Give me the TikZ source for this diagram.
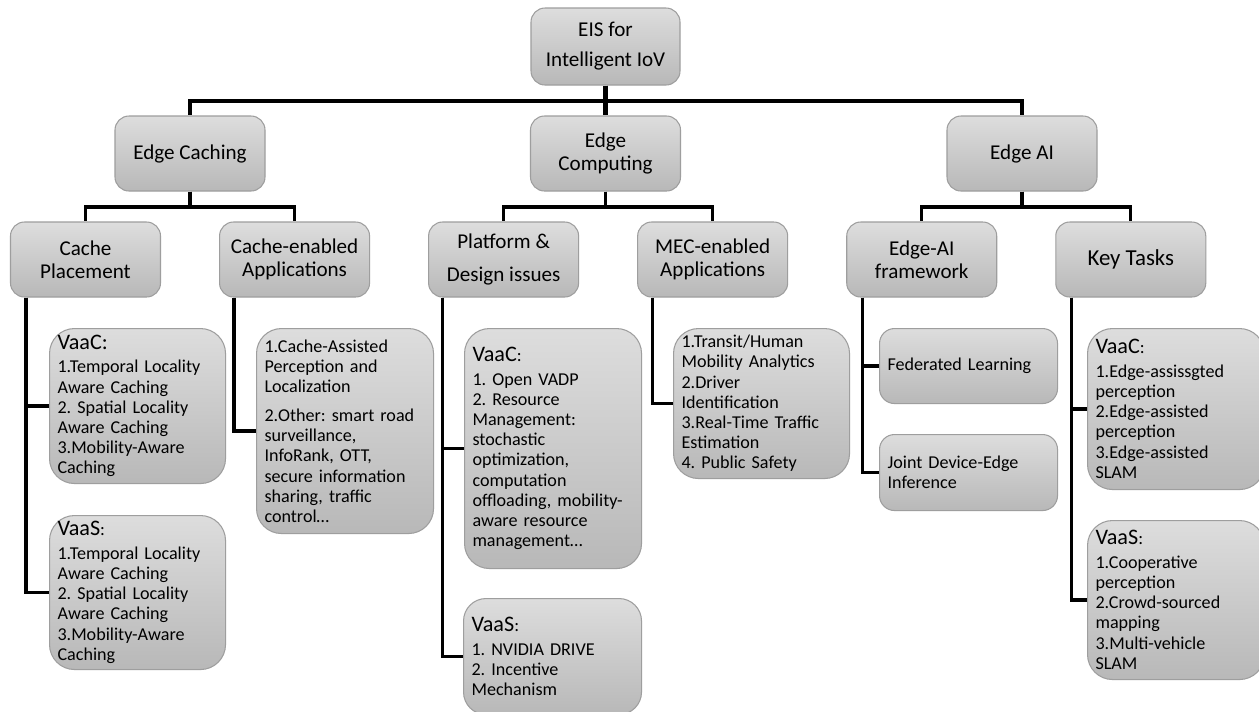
\documentclass[tikz,border=0pt]{standalone}
\usepackage{fontspec}
\setmainfont{Carlito}
\usetikzlibrary{positioning,calc}
\definecolor{boxtop}{RGB}{221,221,221}
\definecolor{boxbot}{RGB}{184,184,184}
\definecolor{boxline}{RGB}{158,158,158}
\newcommand{\vhead}[1]{{\fontsize{12.6}{13.3}\selectfont #1}}
\frenchspacing

\begin{document}
\begin{tikzpicture}[
  topic/.style={draw=boxline, line width=0.6pt, rounded corners=0.28cm, top color=boxtop, bottom color=boxbot,
    align=center, font=\fontsize{12}{13.3}\selectfont, minimum width=3cm, minimum height=1.5cm, inner sep=2pt},
  leaf/.style={draw=boxline, line width=0.6pt, rounded corners=0.5cm, top color=boxtop, bottom color=boxbot,
    anchor=north west, align=left, font=\fontsize{10.3}{11.5}\selectfont\frenchspacing, inner xsep=0.16cm, inner ysep=2pt},
  bus/.style={line width=2.3pt},
  link/.style={line width=1.8pt}
]
\useasboundingbox[fill=white] (0,0) rectangle (25.18,-14.22);

% top levels
\node[topic, minimum width=2.98cm, minimum height=1.54cm] (root) at (12.11,-0.93) {EIS for\\[3.7pt]Intelligent IoV};
\node[topic] (ec) at (3.80,-3.07) {Edge Caching};
\node[topic] (ecomp) at (12.11,-3.07) {Edge\\Computing};
\node[topic] (eai) at (20.44,-3.07) {Edge AI};

\node[topic] (cp) at (1.71,-5.19) {Cache\\Placement};
\node[topic, right=1.16cm of cp] (cea) {Cache-enabled\\Applications};
\node[topic, right=1.16cm of cea] (pd) {Platform \&\\[5.5pt]Design issues};
\node[topic, right=1.16cm of pd] (mec) {MEC-enabled\\Applications};
\node[topic, right=1.16cm of mec] (eaf) {Edge-AI\\framework};
\node[topic, right=1.16cm of eaf, font=\fontsize{13}{14}\selectfont] (kt) {Key Tasks};

% leaves
\node[leaf, text width=3.20cm, minimum height=3.10cm] (cpvaac) at (0.98,-6.56)
  {\vhead{VaaC:}\\[1.8pt]1.Temporal Locality\\Aware Caching\\2. Spatial Locality\\Aware Caching\\3.Mobility-Aware\\Caching};
\node[leaf, text width=3.20cm, minimum height=3.08cm] (cpvaas) at (0.98,-10.30)
  {\vhead{VaaS}:\\[1.8pt]1.Temporal Locality\\Aware Caching\\2. Spatial Locality\\Aware Caching\\3.Mobility-Aware\\Caching};
\node[leaf, text width=3.22cm, minimum height=4.10cm] (ceabox) at (5.12,-6.56)
  {1.Cache-Assisted\\Perception and\\Localization\\[5pt]2.Other: smart road\\surveillance,\\InfoRank, OTT,\\secure information\\sharing, traffic\\control\ldots};
\node[leaf, text width=3.22cm, minimum height=4.80cm] (pdvaac) at (9.28,-6.56)
  {\vhead{VaaC}:\\[1.8pt]1. Open VADP\\2. Resource\\Management:\\stochastic\\optimization,\\computation\\offloading, mobility-\\aware resource\\management\ldots};
\node[leaf, text width=3.24cm, minimum height=2.32cm, rounded corners=0.45cm] (pdvaas) at (9.26,-11.96)
  {\vhead{VaaS}:\\[1.8pt]1. NVIDIA DRIVE\\2. Incentive\\Mechanism};
\node[leaf, text width=3.20cm, minimum height=3.00cm] (mecbox) at (13.46,-6.56)
  {1.Transit/Human\\Mobility Analytics\\2.Driver\\Identification\\3.Real-Time Traffic\\Estimation\\4. Public Safety};
\node[leaf, text width=3.24cm, minimum height=1.50cm, rounded corners=0.3cm] (fed) at (17.58,-6.56)
  {Federated Learning};
\node[leaf, text width=3.24cm, minimum height=1.52cm, rounded corners=0.3cm] (joint) at (17.58,-8.68)
  {Joint Device-Edge\\Inference};
\node[leaf, text width=3.22cm, minimum height=3.22cm] (ktvaac) at (21.74,-6.56)
  {\vhead{VaaC}:\\[1.8pt]1.Edge-assissgted\\perception\\2.Edge-assisted\\perception\\3.Edge-assisted\\SLAM};
\node[leaf, text width=3.22cm, minimum height=3.18cm] (ktvaas) at (21.74,-10.40)
  {\vhead{VaaS}:\\[1.8pt]1.Cooperative\\perception\\2.Crowd-sourced\\mapping\\3.Multi-vehicle\\SLAM};

% tree connectors
\draw[bus] (root.south) -- ++(0,-0.3) -| (ec.north);
\draw[bus] (root.south) -- ++(0,-0.3) -| (eai.north);
\draw[bus] (root.south) -- (ecomp.north);

\draw[link] (ec.south) -- ++(0,-0.31) -| (cp.north);
\draw[link] (ec.south) -- ++(0,-0.31) -| (cea.north);
\draw[link] (ecomp.south) -- ++(0,-0.31) -| (pd.north);
\draw[link] (ecomp.south) -- ++(0,-0.31) -| (mec.north);
\draw[link] (eai.south) -- ++(0,-0.31) -| (eaf.north);
\draw[link] (eai.south) -- ++(0,-0.31) -| (kt.north);

\draw[link] ([xshift=0.32cm]cp.south west) |- (cpvaac.west);
\draw[link] ([xshift=0.32cm]cp.south west) |- (cpvaas.west);
\draw[link] ([xshift=0.30cm]cea.south west) |- (ceabox.west);
\draw[link] ([xshift=0.28cm]pd.south west) |- (pdvaac.west);
\draw[link] ([xshift=0.28cm]pd.south west) |- (pdvaas.west);
\draw[link] ([xshift=0.30cm]mec.south west) |- (mecbox.west);
\draw[link] ([xshift=0.32cm]eaf.south west) |- (fed.west);
\draw[link] ([xshift=0.32cm]eaf.south west) |- (joint.west);
\draw[link] ([xshift=0.32cm]kt.south west) |- (ktvaac.west);
\draw[link] ([xshift=0.32cm]kt.south west) |- (ktvaas.west);
\end{tikzpicture}
\end{document}
